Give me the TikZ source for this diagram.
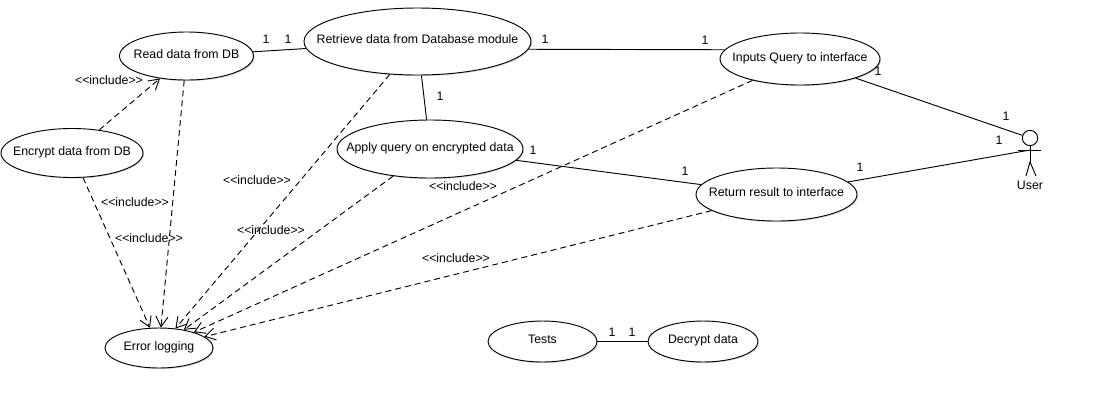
\documentclass[tikz,border=0pt]{standalone}
\usepackage{fontspec}
\setmainfont{Liberation Sans}
\usetikzlibrary{arrows.meta,shapes.geometric,shadows}
\newcommand{\uctext}[1]{\makebox[0pt]{\raisebox{3.5pt}{#1}}}
\begin{document}
\begin{tikzpicture}[
  x=0.75pt,y=-0.75pt,
  font=\fontsize{9.25pt}{11pt}\selectfont,
  uc/.style 2 args={draw=black, ellipse, fill=white, inner sep=0pt, line width=0.7pt,
    minimum width=#1*0.75pt, minimum height=#2*0.75pt,
    drop shadow={shadow xshift=0.8pt, shadow yshift=-0.8pt, opacity=0.3}},
  assoc/.style={draw=black, line width=0.7pt},
  incl/.style={draw=black, line width=0.7pt, dash pattern=on 4.5pt off 3pt, -{Straight Barb[length=7.5pt,width=9pt]}},
  lbl/.style={inner sep=0pt},
]
\useasboundingbox (0,0) rectangle (1099,408);
% use cases
\node[uc={134}{48}] (read) at (186.5,56) {\uctext{Read data from DB}};
\node[uc={142}{49}] (encrypt) at (72,153) {\uctext{Encrypt data from DB}};
\node[uc={227}{67}] (retrieve) at (417.5,41.5) {\uctext{Retrieve data from Database module}};
\node[uc={186}{58}] (apply) at (430,149) {\uctext{Apply query on encrypted data}};
\node[uc={160}{52}] (inputs) at (800,59) {\uctext{Inputs Query to interface}};
\node[uc={161}{53}] (return) at (776.5,194.5) {\uctext{Return result to interface}};
\node[uc={108}{40}] (error) at (159,348) {\uctext{Error logging}};
\node[uc={109}{41}] (tests) at (542.5,341.5) {\uctext{Tests}};
\node[uc={110}{41}] (decrypt) at (703,341.5) {\uctext{Decrypt data}};
% actor
\node[draw=black, circle, fill=white, inner sep=0pt, line width=0.7pt, minimum size=11.5pt] (head) at (1030,138) {};
\coordinate (arml) at (1018,150);
\coordinate (armc) at (1030,150);
\coordinate (armr) at (1041,150);
\coordinate (hip) at (1030,162);
\coordinate (legl) at (1026,176);
\coordinate (legr) at (1036,176);
\draw[assoc] (head.south) -- (hip);
\draw[assoc] (arml) -- (armr);
\draw[assoc] (legl) -- (hip) -- (legr);
\node[lbl] (user) at (1030,185) {User};
% associations
\draw[assoc] (read) -- (retrieve);
\draw[assoc] (retrieve.-4.3) -- (inputs.173.5);
\draw[assoc] (retrieve) -- (apply);
\draw[assoc] (apply) -- (return);
\draw[assoc] (inputs) -- (head);
\draw[assoc] (return) -- (armc);
\draw[assoc] (tests) -- (decrypt);
% includes
\draw[incl] (encrypt) -- (read);
\foreach \a in {encrypt, read, retrieve, apply, inputs, return} {
  \draw[incl] (\a) -- (error);
}
% labels
\foreach \n/\x/\y in {i1/109/80, i2/257/180, i3/135/202, i4/149/238, i5/271/230, i6/463/186, i7/456/258} {
  \node[lbl] (\n) at (\x,\y) {<{}<include>{}>};
}
\foreach \n/\x/\y in {m1/266/39, m2/288/39, m3/545/39, m4/705/40, m5/440/96, m6/533/150, m7/685/171, m8/878/71, m9/1006/116, m10/999/140, m11/860/167, m12/612/332, m13/632/332} {
  \node[lbl] (\n) at (\x,\y) {1};
}
\end{tikzpicture}
\end{document}
